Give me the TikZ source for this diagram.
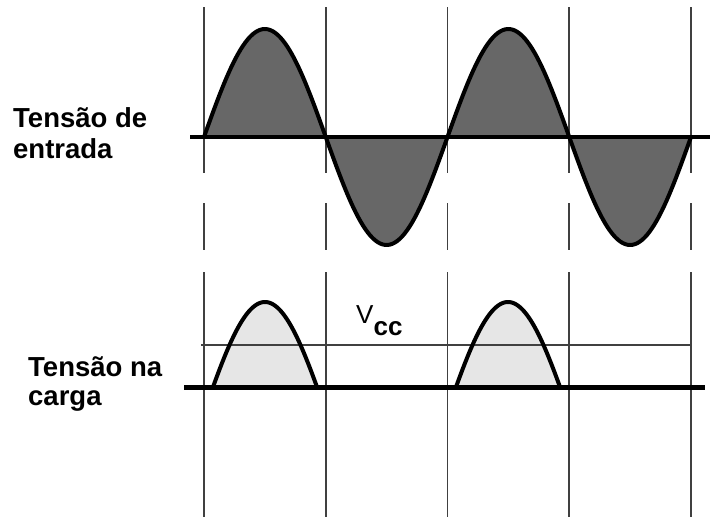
\documentclass[tikz,border=0pt]{standalone}
\usepackage{fontspec}
\setmainfont{Liberation Sans}
\definecolor{lobedark}{HTML}{676767}
\definecolor{lobelight}{HTML}{E6E6E6}
\definecolor{gridgray}{HTML}{404040}

\begin{document}
\begin{tikzpicture}[x=1pt, y=-1pt, line join=round]
\tikzset{
  gridln/.style={gridgray, line width=1.8pt},
  wave/.style={black, line width=4pt},
  baseaxis/.style={black, line width=4.2pt},
  vccline/.style={gridgray, line width=1.5pt},
  sidetext/.style={font=\bfseries\fontsize{27.5}{31}\selectfont, align=left, anchor=base west, inner sep=0pt},
}
\useasboundingbox (0,0) rectangle (710,517);
% filled half cycles (input)
\foreach \i in {0,...,3} {
  \pgfmathsetmacro\xa{204+121.75*\i}
  \pgfmathsetmacro\xb{\xa+121.75}
  \fill[lobedark] plot[domain=\xa:\xb, samples=50] (\x, {137-108*sin((\x-204)*1.47844)}) -- cycle;
}
% filled pulses (load)
\foreach \c in {265,508} {
  \fill[lobelight] plot[domain=13.14:166.86, samples=60, variable=\t] ({\c+(\t-90)*0.67639}, {412-110*sin(\t)}) -- cycle;
}
% time marks
\foreach \i in {0,...,4} {
  \pgfmathsetmacro\xx{204+121.75*\i}
  \draw[gridln] (\xx,7) -- (\xx,173);
  \draw[gridln] (\xx,203) -- (\xx,250);
  \draw[gridln] (\xx,272) -- (\xx,517);
}
\draw[vccline] (201,345) -- (692,345);
% axes
\draw[baseaxis] (190,137) -- (710,137);
\draw[baseaxis, line width=5pt] (184,387) -- (705,387);
% curves
\draw[wave] plot[domain=204:691, samples=200] (\x, {137-108*sin((\x-204)*1.47844)});
\foreach \c in {265,508} {
  \draw[wave] plot[domain=13.14:166.86, samples=60, variable=\t] ({\c+(\t-90)*0.67639}, {412-110*sin(\t)});
}
\node[sidetext] (input) at (13,158) {Tensão de\\entrada};
\node[sidetext, font=\bfseries\fontsize{27.5}{29}\selectfont] (load) at (28,405) {Tensão na\\carga};
\node[anchor=base west, inner sep=0pt, font=\fontsize{26}{26}\selectfont] (vcc) at (356,323) {V\raisebox{-12pt}{\bfseries cc}};
\end{tikzpicture}
\end{document}
